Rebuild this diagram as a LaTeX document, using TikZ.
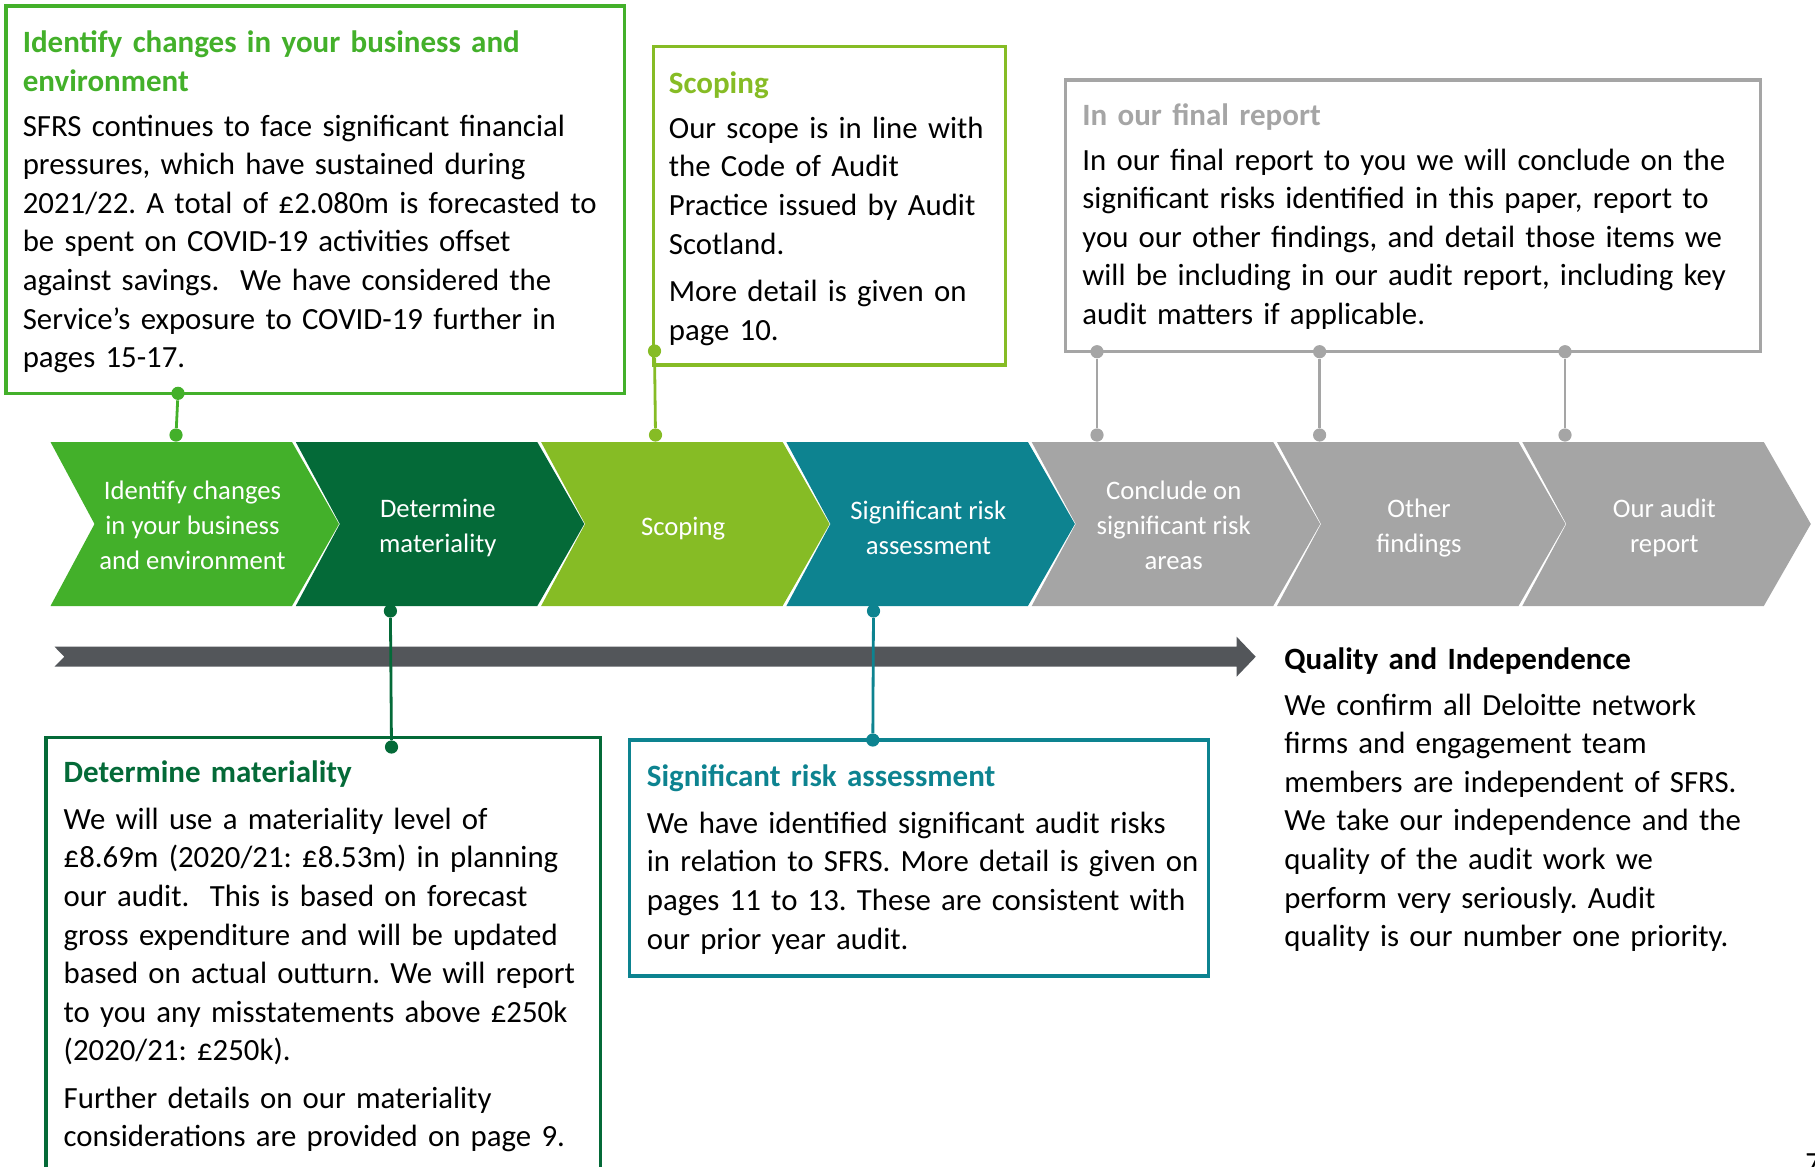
\documentclass[tikz,border=0pt]{standalone}
\usepackage{fontspec}
\setmainfont{Carlito}
\usepackage{xcolor}
\usepackage{tikz}
\usetikzlibrary{positioning,fit,calc}
\definecolor{idgreen}{HTML}{43B02A}
\definecolor{matgreen}{HTML}{046A38}
\definecolor{scopegreen}{HTML}{86BC25}
\definecolor{riskteal}{HTML}{0D8390}
\definecolor{reportgray}{HTML}{A5A5A5}
\definecolor{bargray}{HTML}{53565A}
\tikzstyle{infobox} = [rectangle, draw, line width=1.65pt, inner sep=0pt]
\tikzstyle{boxtitle} = [anchor=base west, inner sep=0pt, align=left, text width=400pt, font=\fontsize{15.5}{19.3}\selectfont\bfseries\frenchspacing]
\tikzstyle{boxtext} = [anchor=base west, inner sep=0pt, align=left, text width=400pt, font=\fontsize{15.4}{19.3}\selectfont\frenchspacing]
\tikzstyle{chevlabel} = [align=center, text=white, inner sep=0pt, font=\fontsize{13.35}{17.5}\selectfont]
\tikzstyle{dot} = [circle, fill, inner sep=0pt, minimum size=6.6pt]
\tikzstyle{link} = [line width=1.4pt]

\begin{document}
\begin{tikzpicture}[x=0.5pt, y=-0.5pt]
    \useasboundingbox (0,0) rectangle (1815,1167);

    % Chevrons
    \foreach \i/\col/\dy/\txt in {0/idgreen/525.8/{Identify changes\\in your business\\and environment},
                              1/matgreen/528.3/{Determine\\materiality},
                              2/scopegreen/528.3/{Scoping},
                              3/riskteal/528.3/{Significant risk\\assessment},
                              4/reportgray/525.8/{Conclude on\\significant risk\\areas},
                              5/reportgray/528.3/{Other\\findings},
                              6/reportgray/528.3/{Our audit\\report}}{
        \pgfmathsetmacro{\chx}{50.5+245.3*\i}
        \fill[\col] (\chx,442) -- (\chx+241.5,442) -- (\chx+288.5,524) -- (\chx+241.5,606)
            -- (\chx,606) -- (\chx+44,524) -- cycle;
        \node[chevlabel] (chev\i) at (\chx+142,\dy) {\txt};
    }

    % Time arrow
    \fill[bargray] (54.5,646.7) -- (1236.6,646.7) -- (1236.6,636.7) -- (1255.7,656.7)
        -- (1236.6,676.7) -- (1236.6,666.7) -- (54.5,666.7) -- (64.3,656.7) -- cycle;

    % Boxes
    \node[infobox, draw=idgreen, fit={(6,6) (624.5,393.3)}] (idbox) {};
    \node[infobox, draw=scopegreen, fit={(653.5,46.7) (1005.7,365)}] (scopebox) {};
    \node[infobox, draw=reportgray, fit={(1065.6,80) (1760.3,351.7)}] (reportbox) {};
    \node[infobox, draw=matgreen, fit={(46,737.3) (600.8,1200)}] (matbox) {};
    \node[infobox, draw=riskteal, fit={(629.4,740) (1208.3,976)}] (riskbox) {};

    % Dots and links
    \node[dot, idgreen] (idtop) at (178,393.3) {};
    \node[dot, idgreen] (idchev) at (176,435) {};
    \draw[link, idgreen] (idtop) -- (idchev);
    \node[dot, scopegreen] (scopetop) at (654.5,351) {};
    \node[dot, scopegreen] (scopechev) at (655.5,435) {};
    \draw[link, scopegreen] (scopetop) -- (scopechev);
    \foreach \x/\n in {1097/a, 1319.6/b, 1565/c}{
        \node[dot, reportgray] (reporttop\n) at (\x,351.7) {};
        \node[dot, reportgray] (reportchev\n) at (\x,435) {};
        \draw[link, reportgray] (reporttop\n) -- (reportchev\n);
    }
    \node[dot, matgreen] (matchev) at (390.4,611) {};
    \node[dot, matgreen] (matbot) at (391.5,747) {};
    \draw[link, matgreen] (matchev) -- (matbot);
    \node[dot, riskteal] (riskchev) at (873.5,611) {};
    \node[dot, riskteal] (riskbot) at (872.8,740) {};
    \draw[link, riskteal] (riskchev) -- (riskbot);

    % Box texts
    \node[boxtitle, idgreen] (idtitle) at (22.4,52.5) {Identify changes in your business and\\environment};
    \node[boxtext] (idtext) at (22.4,136) {SFRS continues to face significant financial\\
        pressures, which have sustained during\\
        2021/22. A total of £2.080m is forecasted to\\
        be spent on COVID-19 activities offset\\
        against savings.\ \ We have considered the\\
        Service’s exposure to COVID-19 further in\\
        pages 15-17.};

    \node[boxtitle, scopegreen] (scopetitle) at (668.5,93.5) {Scoping};
    \node[boxtext] (scopetext) at (668.5,138.3) {Our scope is in line with\\
        the Code of Audit\\
        Practice issued by Audit\\
        Scotland.\\[4.4pt]
        More detail is given on\\
        page 10.};

    \node[boxtitle, reportgray] (reporttitle) at (1082,125.5) {In our final report};
    \node[boxtext] (reporttext) at (1082,170) {In our final report to you we will conclude on the\\
        significant risks identified in this paper, report to\\
        you our other findings, and detail those items we\\
        will be including in our audit report, including key\\
        audit matters if applicable.};

    \node[boxtitle, matgreen] (mattitle) at (63.3,782.5) {Determine materiality};
    \node[boxtext] (mattext) at (63.3,829.3) {We will use a materiality level of\\
        £8.69m (2020/21: £8.53m) in planning\\
        our audit.\ \ This is based on forecast\\
        gross expenditure and will be updated\\
        based on actual outturn. We will report\\
        to you any misstatements above £250k\\
        (2020/21: £250k).\\[4.4pt]
        Further details on our materiality\\
        considerations are provided on page 9.};

    \node[boxtitle, riskteal] (risktitle) at (646.5,786) {Significant risk assessment};
    \node[boxtext] (risktext) at (646.5,833.3) {We have identified significant audit risks\\
        in relation to SFRS. More detail is given on\\
        pages 11 to 13. These are consistent with\\
        our prior year audit.};

    \node[boxtitle] (qualtitle) at (1284,669) {Quality and Independence};
    \node[boxtext] (qualtext) at (1284,715) {We confirm all Deloitte network\\
        firms and engagement team\\
        members are independent of SFRS.\\
        We take our independence and the\\
        quality of the audit work we\\
        perform very seriously. Audit\\
        quality is our number one priority.};

    \node[boxtext] (pagenum) at (1805,1173) {7};
\end{tikzpicture}
\end{document}
